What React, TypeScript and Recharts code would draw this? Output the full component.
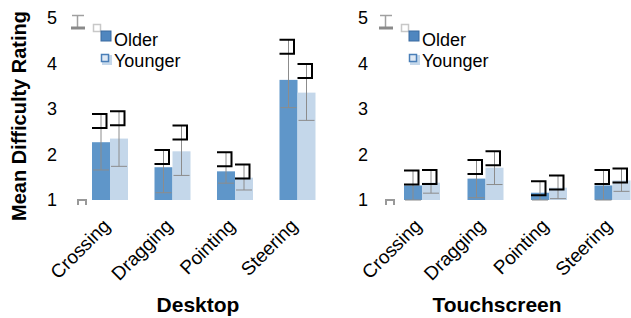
import React from 'react';
import { BarChart, Bar, XAxis, YAxis } from 'recharts';

const categories = ['Crossing', 'Dragging', 'Pointing', 'Steering'];

// Desktop
const desktopOlder = [2.27, 1.72, 1.63, 3.64];
const desktopOlderLow = [1.66, 1.16, 1.37, 3.03];
const desktopOlderHigh = [2.89, 2.1, 2.05, 4.52];
const desktopYounger = [2.35, 2.07, 1.49, 3.36];
const desktopYoungerLow = [1.74, 1.54, 1.22, 2.75];
const desktopYoungerHigh = [2.95, 2.64, 1.78, 3.99];

// Touchscreen
const touchOlder = [1.32, 1.47, 1.16, 1.32];
const touchOlderLow = [1.0, 1.05, 1.0, 1.0];
const touchOlderHigh = [1.65, 1.88, 1.41, 1.66];
const touchYounger = [1.38, 1.71, 1.27, 1.43];
const touchYoungerLow = [1.15, 1.34, 1.03, 1.19];
const touchYoungerHigh = [1.66, 2.07, 1.54, 1.69];

const yTicks = [1, 2, 3, 4, 5];

const OLDER = '#5f96c9';
const YOUNGER = '#c4d7ea';
const FONT = '"Liberation Sans", Arial, sans-serif';

const buildRows = (
  older: number[], oLow: number[], oHigh: number[],
  younger: number[], yLow: number[], yHigh: number[]
) =>
  categories.map((name, i) => ({
    name,
    older: older[i], olderLow: oLow[i], olderHigh: oHigh[i],
    younger: younger[i], youngerLow: yLow[i], youngerHigh: yHigh[i],
  }));

const desktopRows = buildRows(desktopOlder, desktopOlderLow, desktopOlderHigh, desktopYounger, desktopYoungerLow, desktopYoungerHigh);
const touchRows = buildRows(touchOlder, touchOlderLow, touchOlderHigh, touchYounger, touchYoungerLow, touchYoungerHigh);

// bar + gray whisker + black bracket at the top of the whisker
const makeShape = (key: 'older' | 'younger') => (props: any) => {
  const { x, y, width, height, fill, payload } = props;
  const v = payload[key];
  const k = v > 1 ? height / (v - 1) : 45.5;
  const hi = y - (payload[key + 'High'] - v) * k;
  const lo = y + (v - payload[key + 'Low']) * k;
  const cx = x + width / 2;
  return (
    <g>
      <rect x={x} y={y} width={width} height={height} fill={fill} />
      <line x1={cx} x2={cx} y1={hi} y2={lo} stroke="#8c8c8c" strokeWidth={1} />
      <line x1={cx - 8} x2={cx + 8} y1={lo} y2={lo} stroke="#8c8c8c" strokeWidth={1} />
      <path d={`M${x},${hi} H${x + width - 3.5} V${hi + 14} H${x}`} fill="none" stroke="#000" strokeWidth={2} />
    </g>
  );
};

const XTick = ({ x, y, payload }: any) => (
  <text x={x + 1} y={y + 19} transform={`rotate(-45, ${x + 1}, ${y + 19})`} textAnchor="end"
    fontSize={19} fontFamily={FONT} fill="#000">
    {payload.value}
  </text>
);

const LegendGlyphs = () => (
  <svg width={140} height={200} style={{ overflow: 'visible', display: 'block' }}>
    {/* error bar glyph */}
    <line x1={12} x2={24} y1={5.5} y2={5.5} stroke="#a0a0a0" strokeWidth={1.5} />
    <line x1={17.5} x2={17.5} y1={5.5} y2={18} stroke="#a0a0a0" strokeWidth={1.5} />
    <line x1={11} x2={25} y1={18} y2={18} stroke="#8a8a8a" strokeWidth={3} />
    <rect x={33.5} y={14.5} width={7} height={7} fill="#fff" stroke="#c8c8c8" strokeWidth={1.5} />
    {/* older */}
    <rect x={41} y={21} width={10} height={10} fill="#4f86bf" stroke="#3a6aa0" strokeWidth={1} />
    <text x={54} y={35.5} fontSize={18} fontFamily={FONT} fill="#000">Older</text>
    {/* younger */}
    <rect x={42} y={45} width={10} height={10} fill={YOUNGER} />
    <rect x={41.5} y={44.5} width={7} height={7} fill="#dfe9f4" stroke="#4a7fb8" strokeWidth={1.5} />
    <text x={54} y={56.5} fontSize={18} fontFamily={FONT} fill="#000">Younger</text>
    {/* small axis glyph */}
    <path d="M18,195 V190 H26 V195" fill="none" stroke="#999" strokeWidth={2} />
  </svg>
);

const Panel = ({ rows, title, width, legendLeft, titleDx }: any) => (
  <div style={{ position: 'relative', width, height: 318 }}>
    <BarChart width={width} height={318} data={rows} barSize={18} barGap={0}
      margin={{ top: 18, right: 1, left: 0, bottom: 0 }}>
      <XAxis dataKey="name" height={118} axisLine={false} tickLine={false} interval={0} tick={<XTick />}
        label={{ value: title, position: 'insideBottom', offset: 6, dx: titleDx, fontSize: 21, fontWeight: 'bold', fill: '#000', fontFamily: FONT }} />
      <YAxis domain={[1, 5]} ticks={yTicks} width={79} axisLine={false} tickLine={false}
        tickSize={6} tickMargin={16} tick={{ fontSize: 18, fill: '#000', fontFamily: FONT }} />
      <Bar dataKey="older" name="Older" fill={OLDER} shape={makeShape('older')} isAnimationActive={false} />
      <Bar dataKey="younger" name="Younger" fill={YOUNGER} shape={makeShape('younger')} isAnimationActive={false} />
    </BarChart>
    <div style={{ position: 'absolute', left: legendLeft, top: 10 }}>
      <LegendGlyphs />
    </div>
  </div>
);

export default function App() {
  return (
    <div style={{ position: 'absolute', left: 0, top: 0, width: 631, height: 318, overflow: 'hidden', background: '#fff' }}>
      <div style={{ position: 'absolute', left: 0, top: 0 }}>
        <Panel rows={desktopRows} title="Desktop" width={330} legendLeft={60} titleDx={-6} />
      </div>
      <div style={{ position: 'absolute', left: 311, top: 0 }}>
        <Panel rows={touchRows} title="Touchscreen" width={334} legendLeft={57} titleDx={-20} />
      </div>
      <div style={{
        position: 'absolute', left: 19, top: 116, transform: 'translate(-50%, -50%) rotate(-90deg)',
        whiteSpace: 'nowrap', fontFamily: FONT, fontWeight: 'bold', fontSize: 20, color: '#000', lineHeight: 1,
      }}>
        Mean Difficulty Rating
      </div>
    </div>
  );
}
